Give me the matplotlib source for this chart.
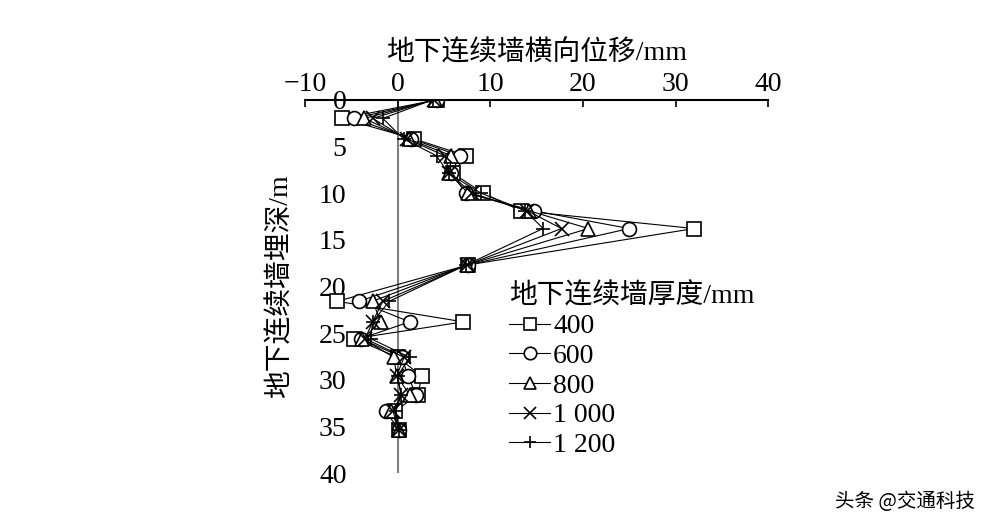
import matplotlib
matplotlib.use("Agg")
import matplotlib.pyplot as plt

depth = [0, 2, 4.2, 6, 7.9, 10, 11.9, 13.8, 17.7, 21.6, 23.8, 25.6, 27.6, 29.6, 31.6, 33.4, 35.4]
w400  = [4.3, -6.0, 1.8, 7.4, 6.0, 9.2, 13.3, 32.0, 7.6, -6.5, 7.1, -4.7, 0.0, 2.6, 2.2, -0.3, 0.2]
w600  = [4.2, -4.7, 1.5, 6.7, 5.8, 7.4, 14.7, 25.0, 7.6, -4.2, 1.3, -4.0, 0.5, 1.1, 2.0, -1.3, 0.2]
w800  = [4.0, -3.6, 1.2, 5.8, 5.6, 7.6, 14.2, 20.6, 7.5, -2.7, -1.8, -3.8, -0.4, -0.1, 1.3, -0.7, 0.2]
w1000 = [3.9, -2.7, 1.0, 5.1, 5.6, 8.0, 14.0, 17.7, 7.5, -1.6, -2.7, -3.5, 0.7, -0.1, 0.4, -0.5, 0.2]
w1200 = [3.8, -1.6, 0.65, 4.2, 5.5, 9.0, 13.8, 15.7, 7.4, -0.9, -2.7, -2.9, 1.3, 0.0, 0.4, -0.2, 0.2]
labels = ["400", "600", "800", "1 000", "1 200"]
series = [w400, w600, w800, w1000, w1200]
markers = ["s", "o", "^", "x", "+"]
xticks = [-10, 0, 10, 20, 30, 40]
yticks = [0, 5, 10, 15, 20, 25, 30, 35, 40]

fam = ["Liberation Serif", "Noto Sans CJK SC"]
plt.rcParams["font.family"] = fam
fig = plt.figure(figsize=(9.9, 5.25), dpi=100)
ax = fig.add_axes([0.308, 0.099, 0.468, 0.711])
for s, m, l in zip(series, markers, labels):
    ax.plot(s, depth, color="black", lw=0.8, marker=m, markersize=10,
            markerfacecolor="white", markeredgecolor="black", markeredgewidth=1.2, label=l)
ax.set_xlim(-10, 40)
ax.set_ylim(40, 0)
ax.xaxis.tick_top()
ax.xaxis.set_label_position("top")
ax.set_xticks(xticks)
ax.set_yticks(yticks)
for sp in ["bottom", "right", "left"]:
    ax.spines[sp].set_visible(False)
ax.spines["top"].set_linewidth(1.5)
ax.axvline(0, color="gray", lw=1.5, zorder=0)
ax.tick_params(axis="x", labelsize=20, direction="in", length=5, width=1.2, pad=2)
ax.tick_params(axis="y", labelsize=20, length=0, pad=-30)
ax.set_xlabel("地下连续墙横向位移/mm", fontsize=20, labelpad=8)
ax.set_ylabel("地下连续墙埋深/m", fontsize=20, labelpad=8)
leg = ax.legend(loc="upper left", bbox_to_anchor=(0.41, 0.545), frameon=False, fontsize=20,
                title="地下连续墙厚度/mm", title_fontsize=20, handlelength=1.5,
                labelspacing=0.15, borderpad=0, handletextpad=0.1, markerscale=0.9)
leg._legend_box.align = "left"
fig.text(0.985, 0.035, "头条 @交通科技", ha="right", fontsize=14, family=["Noto Sans CJK SC"])
fig.savefig("out.png", dpi=100)
